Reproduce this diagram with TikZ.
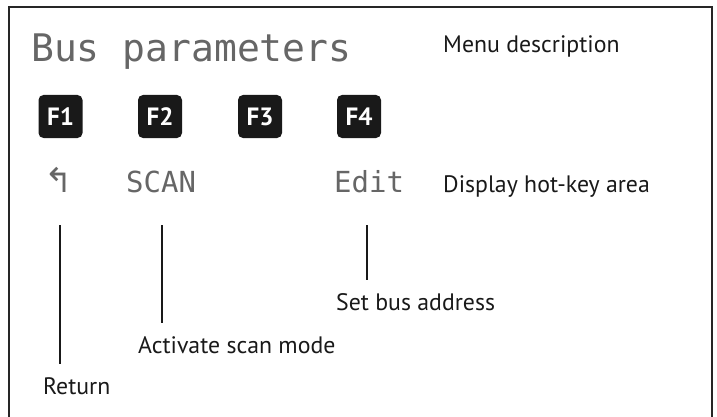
\documentclass[tikz,border=0pt]{standalone}
\usepackage{fontspec}
\setmainfont{PT Sans}
\newfontfamily\lcdfont{DejaVu Sans Mono}
\newfontfamily\symfont{DejaVu Sans}
\begin{document}
\begin{tikzpicture}[x=1pt,y=-1pt]
      \tikzset{fkey/.style={fill=black!90, rounded corners=5pt, minimum width=44pt, minimum height=43pt, text=white, font=\fontsize{25}{27}\selectfont\bfseries, inner sep=0pt},
        lcd/.style={anchor=base west, inner sep=0pt, text=black!60, font=\lcdfont\fontsize{29}{32}\selectfont},
        lbl/.style={anchor=base west, inner sep=0pt, text=black!90, font=\fontsize{23.8}{26}\selectfont},
        pin/.style={line width=2pt, black!90}}
      \useasboundingbox (0,0) rectangle (717,417);
      \draw[line width=2pt, black!85] (8.5,430) -- (8.5,7.5) -- (711.5,7.5) -- (711.5,430);
      % display text
      \node[lcd, font=\lcdfont\fontsize{38}{40}\selectfont] (title) at (31,62) {Bus parameters};
      \node[lbl] (menu) at (443,53) {Menu description};
      % function keys
      \node[fkey] (f1) at (60.5,116.5) {F1};
      \node[fkey] (f2) at (160,116.5) {F2};
      \node[fkey] (f3) at (260,116.5) {F3};
      \node[fkey] (f4) at (359,116.5) {F4};
      % hot-key row
      \node[lcd, font=\symfont\fontsize{34}{36}\selectfont] (kret) at (44,192) {↰};
      \node[lcd] (kscan) at (126,192) {SCAN};
      \node[lcd] (kedit) at (334,192) {Edit};
      \node[lbl] (hotkey) at (443,192) {Display hot-key area};
      % what the keys do
      \node[lbl] (ret) at (43,394) {Return};
      \node[lbl] (scan) at (138,353) {Activate scan mode};
      \node[lbl] (addr) at (336,310) {Set bus address};
      \coordinate (retA) at (60,225);
      \coordinate (retB) at (60,364);
      \coordinate (scanA) at (161.5,225);
      \coordinate (scanB) at (161.5,323);
      \coordinate (addrA) at (367,225);
      \coordinate (addrB) at (367,280);
      \draw[pin] (retA) -- (retB);
      \draw[pin] (scanA) -- (scanB);
      \draw[pin] (addrA) -- (addrB);
    \end{tikzpicture}
\end{document}
